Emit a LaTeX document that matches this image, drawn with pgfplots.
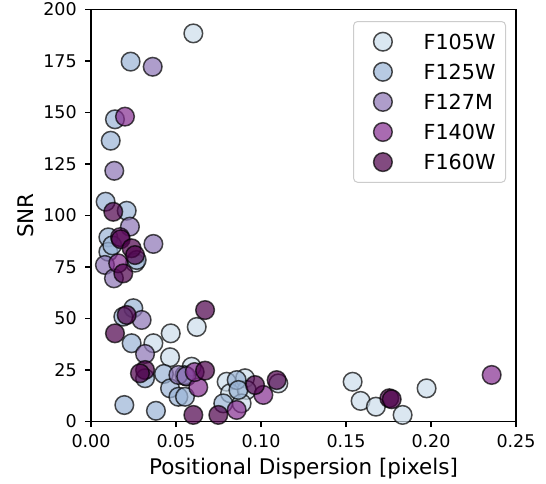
\documentclass[border=0pt]{standalone}
\usepackage{pgfplots}
\pgfplotsset{compat=1.18}
\usepackage{fontspec}
\setmainfont{DejaVu Sans}
\definecolor{c1}{RGB}{204,221,235}
\definecolor{c2}{RGB}{154,180,214}
\definecolor{c3}{RGB}{140,116,181}
\definecolor{c4}{RGB}{133,45,144}
\definecolor{c5}{RGB}{77,0,75}
\pgfplotsset{
  dot/.style={only marks, mark=*, mark size=9.3pt,
    mark options={fill=#1, fill opacity=0.7, draw=black, draw opacity=0.7, line width=1.5pt}}
}
\begin{document}
\begin{tikzpicture}[x=1pt,y=1pt]
\path[use as bounding box] (-91,-61.5) rectangle (455,421.5);
\begin{axis}[
  at={(0,0)}, anchor=south west, scale only axis,
  width=425pt, height=412pt,
  xmin=0, xmax=0.25, ymin=0, ymax=200,
  xtick={0,0.05,0.1,0.15,0.2,0.25},
  ytick={0,25,50,75,100,125,150,175,200},
  scaled x ticks=false,
  /pgf/number format/assume math mode=true,
  tick align=outside, major tick length=5.7pt,
  tick style={black, line width=1.1pt},
  xtick pos=bottom, ytick pos=left,
  axis line style={line width=1.1pt},
  tick label style={font=\fontsize{17.5}{21}\selectfont},
  xticklabel style={yshift=-4pt, /pgf/number format/.cd, fixed, fixed zerofill, precision=2},
  yticklabel style={xshift=-5pt},
  label style={font=\fontsize{21.5}{25}\selectfont},
  xlabel={Positional Dispersion [pixels]},
  ylabel={SNR},
  xlabel style={at={(axis description cs:0.5,0)}, anchor=base, yshift=-52.5pt},
  ylabel style={at={(axis description cs:0,0.5)}, anchor=base, yshift=57.5pt},
  legend cell align=left,
  legend style={at={(rel axis cs:1,1)}, anchor=north east, xshift=-10pt, yshift=-11.5pt,
    draw=black!20, line width=1pt, rounded corners=4pt, fill=white, fill opacity=0.8,
    draw opacity=1, text opacity=1, inner xsep=10pt, inner ysep=10.2pt, row sep=10.1pt,
    font=\fontsize{20.7}{24}\selectfont,
    nodes={inner sep=0pt, text height=15pt, text depth=0pt},
    /tikz/every odd column/.append style={column sep=22pt}},
  legend image code/.code={\path[draw=none,fill=none] (0pt,-10pt) rectangle (38pt,10pt); \draw[#1] plot coordinates {(19.3pt,0pt)};},
]
\addplot[dot=c1] coordinates {
(0.0602,188.4) (0.0259,77.1) (0.0469,42.8) (0.0367,38.0) (0.0465,31.2)
(0.0563,21.8) (0.0622,45.9) (0.0592,26.6) (0.0798,19.3) (0.0906,21.0)
(0.0818,13.7) (0.0916,15.3) (0.0886,8.8) (0.1102,18.5) (0.1539,19.3)
(0.1586,10.0) (0.1676,7.2) (0.1833,3.2) (0.1974,16.1)
};
\addlegendentry{F105W}
\addplot[dot=c2] coordinates {
(0.0233,174.7) (0.0141,146.7) (0.0116,136.3) (0.0086,106.7) (0.0210,102.3)
(0.0102,89.4) (0.0102,82.4) (0.0125,85.5) (0.0269,78.4) (0.0249,55.0)
(0.0190,50.9) (0.0239,38.0) (0.0318,21.0) (0.0429,23.1) (0.0465,16.1)
(0.0514,12.0) (0.0553,12.0) (0.0196,8.0) (0.0382,5.2) (0.0778,8.8)
(0.0857,20.1) (0.0867,15.3) (0.0550,22.5)
};
\addlegendentry{F125W}
\addplot[dot=c3] coordinates {
(0.0363,172.2) (0.0137,121.7) (0.0229,94.6) (0.0367,86.2) (0.0082,76.0)
(0.0135,69.5) (0.0298,49.3) (0.0318,32.8) (0.0514,22.6) (0.0560,22.0)
};
\addlegendentry{F127M}
\addplot[dot=c4] coordinates {
(0.0200,148.0) (0.0171,89.5) (0.0160,76.8) (0.0631,16.6) (0.0610,24.0)
(0.0857,5.6) (0.1014,12.9) (0.2357,22.6)
};
\addlegendentry{F140W}
\addplot[dot=c5] coordinates {
(0.0131,101.8) (0.0175,88.5) (0.0239,84.1) (0.0259,80.8) (0.0190,71.9)
(0.0210,51.7) (0.0141,42.8) (0.0318,25.0) (0.0288,23.4) (0.0671,54.1)
(0.0671,24.7) (0.0602,3.2) (0.0749,3.2) (0.0965,17.7) (0.1092,20.1)
(0.1755,11.3) (0.1769,10.8)
};
\addlegendentry{F160W}
\end{axis}
\end{tikzpicture}
\end{document}
